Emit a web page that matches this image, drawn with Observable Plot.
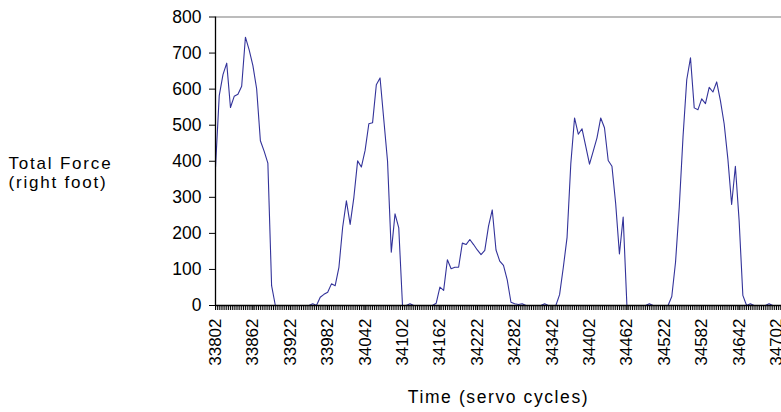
<!DOCTYPE html>
<html>
<head>
<meta charset="utf-8">
<script src="https://cdn.jsdelivr.net/npm/d3@7"></script>
<script src="https://cdn.jsdelivr.net/npm/@observablehq/plot@0.6"></script>
<style>
  html, body { margin: 0; padding: 0; background: #fff; }
  #chart svg { display: block; }
</style>
</head>
<body>
<div id="chart"></div>
<script>
// Time (servo cycles), one sample every 6 cycles
const times = [
  33802, 33808, 33814, 33820, 33826, 33832, 33838, 33844, 33850, 33856,
  33862, 33868, 33874, 33880, 33886, 33892, 33898, 33904, 33910, 33916,
  33922, 33928, 33934, 33940, 33946, 33952, 33958, 33964, 33970, 33976,
  33982, 33988, 33994, 34000, 34006, 34012, 34018, 34024, 34030, 34036,
  34042, 34048, 34054, 34060, 34066, 34072, 34078, 34084, 34090, 34096,
  34102, 34108, 34114, 34120, 34126, 34132, 34138, 34144, 34150, 34156,
  34162, 34168, 34174, 34180, 34186, 34192, 34198, 34204, 34210, 34216,
  34222, 34228, 34234, 34240, 34246, 34252, 34258, 34264, 34270, 34276,
  34282, 34288, 34294, 34300, 34306, 34312, 34318, 34324, 34330, 34336,
  34342, 34348, 34354, 34360, 34366, 34372, 34378, 34384, 34390, 34396,
  34402, 34408, 34414, 34420, 34426, 34432, 34438, 34444, 34450, 34456,
  34462, 34468, 34474, 34480, 34486, 34492, 34498, 34504, 34510, 34516,
  34522, 34528, 34534, 34540, 34546, 34552, 34558, 34564, 34570, 34576,
  34582, 34588, 34594, 34600, 34606, 34612, 34618, 34624, 34630, 34636,
  34642, 34648, 34654, 34660, 34666, 34672, 34678, 34684, 34690, 34696,
  34702, 34708
];

// Total force (right foot)
const force = [
  383, 582, 640, 672, 549, 580, 586, 608, 744, 709,
  665, 601, 457, 428, 395, 55, 0, 0, 0, 0,
  0, 0, 0, 0, 0, 0, 5, 0, 23, 31,
  37, 60, 55, 106, 217, 290, 225, 300, 401, 384,
  430, 504, 507, 612, 631, 515, 400, 148, 254, 215,
  0, 0, 5, 0, 0, 0, 0, 0, 0, 6,
  51, 42, 127, 102, 106, 106, 173, 169, 183, 169,
  154, 141, 153, 220, 265, 154, 123, 111, 71, 9,
  5, 3, 5, 0, 0, 0, 0, 0, 5, 0,
  0, 0, 30, 106, 189, 393, 520, 475, 490, 441,
  392, 428, 465, 520, 493, 402, 386, 282, 143, 245,
  0, 0, 0, 0, 0, 0, 5, 0, 0, 0,
  0, 0, 25, 120, 273, 467, 626, 687, 548, 543,
  573, 560, 605, 592, 620, 568, 504, 406, 280, 386,
  236, 28, 0, 5, 0, 0, 0, 0, 5, 0,
  0, 0
];

const xTickLabels = [33802, 33862, 33922, 33982, 34042, 34102, 34162, 34222,
                     34282, 34342, 34402, 34462, 34522, 34582, 34642, 34702];
const yTicks = [0, 100, 200, 300, 400, 500, 600, 700, 800];

const data = times.map((t, i) => ({t, f: force[i]}));
const minorTicks = d3.range(33802, 34711, 3);

const font = "'Liberation Sans', Arial, sans-serif";

const chart = Plot.plot({
  width: 781,
  height: 412,
  marginLeft: 215,
  marginRight: 0,
  marginTop: 16.5,
  marginBottom: 107,
  style: {fontFamily: font, background: "#fff", overflow: "visible"},
  x: {domain: [33802, 34710]},
  y: {domain: [0, 800]},
  marks: [
    Plot.ruleY([800], {stroke: "#a6a6a6", strokeWidth: 1.5}),
    Plot.line(data, {x: "t", y: "f", stroke: "#33339a", strokeWidth: 1.1}),
    Plot.ruleY([0], {stroke: "#000", strokeWidth: 1.3}),
    Plot.ruleX([33802], {stroke: "#000", strokeWidth: 1.3}),
    Plot.axisY({ticks: yTicks, tickSize: 6, tickPadding: 8, fontSize: 17.5, label: null, stroke: "#000", color: "#000"}),
    Plot.axisX({ticks: minorTicks, tickSize: 5, tickFormat: () => "", label: null, stroke: "#000"}),
    Plot.axisX({ticks: xTickLabels, tickSize: 5, tickRotate: -90, tickPadding: 8, fontSize: 17, label: null, tickFormat: d => String(d), color: "#000"}),
    Plot.text(["Total Force\n(right foot)"], {frameAnchor: "left", dx: -207, dy: 11, textAnchor: "start", lineAnchor: "middle", fontSize: 17, lineHeight: 1.12, fill: "#000"}),
    Plot.text(["Time (servo cycles)"], {frameAnchor: "bottom", dy: 92, lineAnchor: "middle", fontSize: 17.5, fill: "#000"})
  ]
});
d3.select(chart).selectAll("text")
  .filter(function () { return this.textContent.startsWith("Total Force"); })
  .attr("letter-spacing", "1.8px");
d3.select(chart).selectAll("text")
  .filter(function () { return this.textContent.startsWith("Time ("); })
  .attr("letter-spacing", "1.6px");
document.getElementById("chart").append(chart);
</script>
</body>
</html>
